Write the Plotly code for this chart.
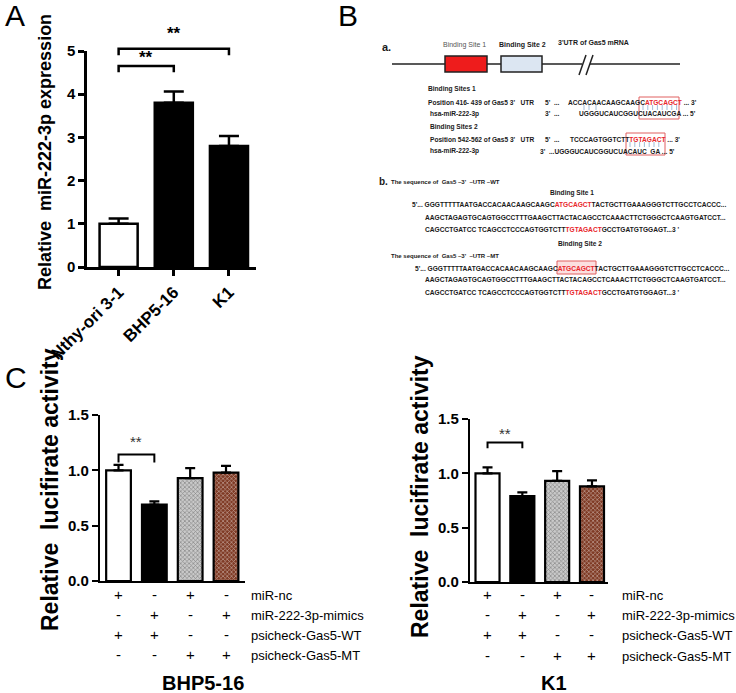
import plotly.graph_objects as go

W, H = 736, 693
FONT = "Liberation Sans, Arial, sans-serif"


def px(x):
    return x / W


def py(y):
    return 1 - y / H


# ---------------- data ----------------
# Panel A
a_cats = ["Nthy-ori 3-1", "BHP5-16", "K1"]
a_vals = [1.0, 3.8, 2.8]
a_err = [0.12, 0.26, 0.23]
a_colors = ["white", "black", "black"]
a_yticks = [0, 1, 2, 3, 4, 5]

# Panel C
c_groups = ["BHP5-16", "K1"]
c_bhp_vals = [1.0, 0.69, 0.93, 0.98]
c_bhp_err = [0.05, 0.03, 0.09, 0.06]
c_k1_vals = [1.0, 0.79, 0.93, 0.88]
c_k1_err = [0.055, 0.035, 0.09, 0.055]
c_yticks = [0.0, 0.5, 1.0, 1.5]
c_conditions = ["miR-nc", "miR-222-3p-mimics", "psicheck-Gas5-WT", "psicheck-Gas5-MT"]
c_signs = [["+", "-", "+", "-"],
           ["-", "+", "-", "+"],
           ["+", "+", "-", "-"],
           ["-", "-", "+", "+"]]
c_fill = ["white", "black", "#c9c9c9", "#7f3a24"]
c_pattern_fg = ["black", "black", "#555555", "#3a160b"]
c_pattern_shape = ["", "", "x", "x"]

# ---------------- axes geometry ----------------
A_XDOM = [px(87), px(256)]
A_YDOM = [py(267), py(51)]
A_XR = [-0.573, 2.49]
A_YR = [0, 5]

CL_XDOM = [px(100), px(245)]
CL_YDOM = [py(581), py(415)]
CL_XR = [-0.517, 3.53]

CR_XDOM = [px(470), px(608)]
CR_YDOM = [py(582), py(419)]
CR_XR = [-0.503, 3.46]
C_YR = [0, 1.5]


def yd2p(v, dom, rng):
    return dom[0] + (v - rng[0]) / (rng[1] - rng[0]) * (dom[1] - dom[0])


fig = go.Figure()

# Panel A bars
fig.add_trace(go.Bar(
    x=list(range(len(a_cats))), y=a_vals, width=0.69,
    marker=dict(color=a_colors, line=dict(color="black", width=2.5)),
    error_y=dict(type="data", array=a_err, arrayminus=[0] * len(a_err), symmetric=False,
                 color="black", thickness=2.5, width=10),
    xaxis="x", yaxis="y", showlegend=False, hoverinfo="skip"))

# Panel C bars
for vals, errs, xa, ya in [(c_bhp_vals, c_bhp_err, "x2", "y2"), (c_k1_vals, c_k1_err, "x3", "y3")]:
    fig.add_trace(go.Bar(
        x=list(range(len(vals))), y=vals, width=0.69,
        marker=dict(color=c_fill, line=dict(color="black", width=2.2),
                    pattern=dict(shape=c_pattern_shape, fgcolor=c_pattern_fg,
                                 size=3, solidity=0.4, fillmode="overlay")),
        error_y=dict(type="data", array=errs, arrayminus=[0] * len(errs), symmetric=False,
                     color="black", thickness=2.2, width=5),
        xaxis=xa, yaxis=ya, showlegend=False, hoverinfo="skip"))

axis_common = dict(showline=True, linecolor="black", mirror=False, showgrid=False,
                   zeroline=False, tickcolor="black", fixedrange=True, automargin=False,
                   ticklabeloverflow="allow")

fig.update_layout(
    width=W, height=H, margin=dict(l=0, r=0, t=0, b=0, autoexpand=False),
    paper_bgcolor="white", plot_bgcolor="rgba(0,0,0,0)",
    font=dict(family=FONT, color="black"),
    showlegend=False,
    xaxis=dict(domain=A_XDOM, range=A_XR, anchor="y", tickvals=list(range(len(a_cats))),
               ticktext=a_cats, tickangle=-45, ticks="outside", ticklen=6, tickwidth=2.5,
               linewidth=2.5, tickfont=dict(size=17, weight="bold", family=FONT), **axis_common),
    yaxis=dict(domain=A_YDOM, range=A_YR, anchor="x", tickvals=a_yticks,
               ticktext=[str(v) for v in a_yticks], ticks="outside", ticklen=6, tickwidth=2.5,
               linewidth=2.5, tickfont=dict(size=15, weight="bold", family=FONT), **axis_common),
    xaxis2=dict(domain=CL_XDOM, range=CL_XR, anchor="y2", showticklabels=False, ticks="",
                linewidth=2.2, **axis_common),
    yaxis2=dict(domain=CL_YDOM, range=C_YR, anchor="x2", tickvals=c_yticks,
                ticktext=["%.1f" % v for v in c_yticks], ticks="outside", ticklen=6,
                tickwidth=2.2, linewidth=2.2,
                tickfont=dict(size=15, weight="bold", family=FONT), **axis_common),
    xaxis3=dict(domain=CR_XDOM, range=CR_XR, anchor="y3", showticklabels=False, ticks="",
                linewidth=2.2, **axis_common),
    yaxis3=dict(domain=CR_YDOM, range=C_YR, anchor="x3", tickvals=c_yticks,
                ticktext=["%.1f" % v for v in c_yticks], ticks="outside", ticklen=6,
                tickwidth=2.2, linewidth=2.2,
                tickfont=dict(size=15, weight="bold", family=FONT), **axis_common),
)

annotations = []
shapes = []


def txt(x, y, s, size=6.6, anchor="left", color="#1a1a1a", bold=True, xref="paper", yref="paper",
        angle=0):
    annotations.append(dict(
        x=x, y=y, xref=xref, yref=yref, text=s, showarrow=False, xanchor=anchor, yanchor="middle",
        textangle=angle,
        font=dict(family=FONT, size=size, color=color, weight="bold" if bold else "normal")))


def bracket(xref, xa, xb, ytop, yleg, dom, rng, width):
    yt = yd2p(ytop, dom, rng)
    yl = yd2p(yleg, dom, rng)
    shapes.append(dict(type="path", xref=xref, yref="paper",
                       path=f"M {xa},{yl} L {xa},{yt} L {xb},{yt} L {xb},{yl}",
                       line=dict(color="black", width=width)))


# ---------- Panel letters ----------
txt(px(3), py(16), "A", size=30, bold=False, color="black")
txt(px(336), py(16), "B", size=30, bold=False, color="black")
txt(px(3), py(377), "C", size=30, bold=False, color="black")

# ---------- Panel A decorations ----------
txt(px(45), py(152), "Relative  miR-222-3p expression", size=18, anchor="center", color="black",
    angle=-90)
bracket("x", 0, 1, 4.65, 4.51, A_YDOM, A_YR, 2.5)
bracket("x", 0, 2, 5.05, 4.90, A_YDOM, A_YR, 2.5)
annotations.append(dict(x=0.5, y=yd2p(4.86, A_YDOM, A_YR), xref="x", yref="paper", text="**",
                        showarrow=False, yanchor="middle",
                        font=dict(family=FONT, size=17, weight="bold", color="black")))
annotations.append(dict(x=1.0, y=yd2p(5.40, A_YDOM, A_YR), xref="x", yref="paper", text="**",
                        showarrow=False, yanchor="middle",
                        font=dict(family=FONT, size=17, weight="bold", color="black")))

# ---------- Panel C decorations ----------
txt(px(50), py(490), "Relative  lucifirate activity", size=23, anchor="center", color="black",
    angle=-90)
txt(px(420), py(497), "Relative  lucifirate activity", size=23, anchor="center", color="black",
    angle=-90)
bracket("x2", 0, 1, 1.144, 1.07, CL_YDOM, C_YR, 2)
bracket("x3", 0, 1, 1.284, 1.23, CR_YDOM, C_YR, 2)
annotations.append(dict(x=0.5, y=yd2p(1.26, CL_YDOM, C_YR), xref="x2", yref="paper", text="**",
                        showarrow=False, yanchor="middle",
                        font=dict(family=FONT, size=15, color="#333333")))
annotations.append(dict(x=0.5, y=yd2p(1.37, CR_YDOM, C_YR), xref="x3", yref="paper", text="**",
                        showarrow=False, yanchor="middle",
                        font=dict(family=FONT, size=15, color="#333333")))

rows_left = [594, 614, 634, 654]
rows_right = [594, 614, 634, 655]
for xa, rows, lab_x in [("x2", rows_left, 249), ("x3", rows_right, 620)]:
    for r, (cond, signs) in enumerate(zip(c_conditions, c_signs)):
        for i, s in enumerate(signs):
            annotations.append(dict(x=i, y=py(rows[r]), xref=xa, yref="paper", text=s,
                                    showarrow=False, yanchor="middle",
                                    font=dict(family=FONT, size=15, color="black")))
        txt(px(lab_x), py(rows[r] + 1), cond, size=13, bold=False, color="black")

txt(px(203), py(683), c_groups[0], size=20, anchor="center", color="black")
txt(px(554), py(683), c_groups[1], size=20, anchor="center", color="black")

# ---------- Panel B: schematic ----------
RED = "#e8262b"
txt(px(380), py(47), "a.", size=11)
txt(px(465), py(45), "Binding Site 1", size=7, anchor="center", color="#555555", bold=False)
txt(px(522), py(45), "Binding Site 2", size=7, anchor="center")
txt(px(593), py(43), "3'UTR of Gas5 mRNA", size=7, anchor="center")


def seg(x0, y0, x1, y1, color="#222222", width=1.5):
    shapes.append(dict(type="line", xref="paper", yref="paper", x0=px(x0), y0=py(y0),
                       x1=px(x1), y1=py(y1), line=dict(color=color, width=width)))


def box(x0, y0, x1, y1, fill, line="#222222", width=1.5):
    shapes.append(dict(type="rect", xref="paper", yref="paper", x0=px(x0), y0=py(y0),
                       x1=px(x1), y1=py(y1), fillcolor=fill, line=dict(color=line, width=width)))


seg(392, 64, 582, 64)
seg(590, 64, 680, 64)
seg(579, 75, 586, 55)
seg(586, 75, 593, 55)
box(445, 56, 487, 72, "#ee1c1c")
box(501, 56, 542, 72, "#dce6f2")

# binding sites detail
txt(px(426), py(89), "Binding Sites 1")
txt(px(426), py(102), "Position 416- 439 of Gas5 3'   UTR")
txt(px(543), py(102), "5'  ...")
txt(px(566), py(102), "ACCACAACAAGCAAGC<span style='color:%s'>ATGCAGCT</span> ... 3'" % RED)
txt(px(428), py(114), "hsa-miR-222-3p")
txt(px(543), py(114), "3'  ...")
txt(px(577), py(114), "UGGGUCAUCGGUCUACAUCGA ... 5'")
box(639, 97, 679, 119, "rgba(0,0,0,0)", line="#e06060", width=1)
for k in range(8):
    seg(643 + 4.8 * k, 105, 643 + 4.8 * k, 110, color="#7aa0c8", width=0.7)
for xx in [584, 589, 596]:
    seg(xx, 105, xx, 110, color="#7aa0c8", width=0.7)

txt(px(428), py(127), "Binding Sites 2")
txt(px(428), py(139), "Position 542-562 of Gas5 3'   UTR")
txt(px(543), py(139), "5'  ...")
txt(px(568), py(139), "TCCCAGTGGTCTT<span style='color:%s'>TGTAGACT</span> ... 3'" % RED)
txt(px(428), py(151), "hsa-miR-222-3p")
txt(px(538), py(151), "3'  ...UGGGUCAUCGGUCUACAUC  GA ... 5'")
box(626, 133, 665, 155, "rgba(0,0,0,0)", line="#e06060", width=1)
for k in range(7):
    seg(630 + 4.8 * k, 142, 630 + 4.8 * k, 147, color="#7aa0c8", width=0.7)

# sequences
txt(px(377), py(181), "b.", size=10)
txt(px(389), py(182), "The sequence of  Gas5 \u20133'  \u2013UTR \u2013WT", size=6)
txt(px(572), py(193), "Binding Site 1", size=6.6, anchor="center")
seq1 = ("5'... GGGTTTTTAATGACCACAACAAGCAAGC<span style='color:%s'>ATGCAGCT</span>"
        "TACTGCTTGAAAGGGTCTTGCCTCACCC...") % RED
seq2 = "AAGCTAGAGTGCAGTGGCCTTTGAAGCTTACTACAGCCTCAAACTTCTGGGCTCAAGTGATCCT..."
seq3 = ("CAGCCTGATCC TCAGCCTCCCAGTGGTCTT<span style='color:%s'>TGTAGACT</span>"
        "GCCTGATGTGGAGT...3 '") % RED
txt(px(410), py(205), seq1)
txt(px(423), py(217), seq2)
txt(px(423), py(229), seq3)

txt(px(580), py(244), "Binding Site 2", size=6.6, anchor="center")
txt(px(389), py(256), "The sequence of  Gas5 \u20133'  \u2013UTR \u2013MT", size=6)
box(557, 261, 596, 274, "rgba(232,38,43,0.15)", line="#e06060", width=1)
txt(px(413), py(268), seq1)
txt(px(423), py(280), seq2)
txt(px(423), py(292), seq3)

fig.update_layout(annotations=annotations, shapes=shapes)
post = ("document.body.style.margin='0';document.body.style.overflow='hidden';"
        "var gd=document.getElementById('{plot_id}');"
        "Plotly.relayout(gd, {'yaxis.range': [%s, %s]});" % (A_YR[0], A_YR[1]))
fig.write_html("out.html", config={"displayModeBar": False}, post_script=post)
